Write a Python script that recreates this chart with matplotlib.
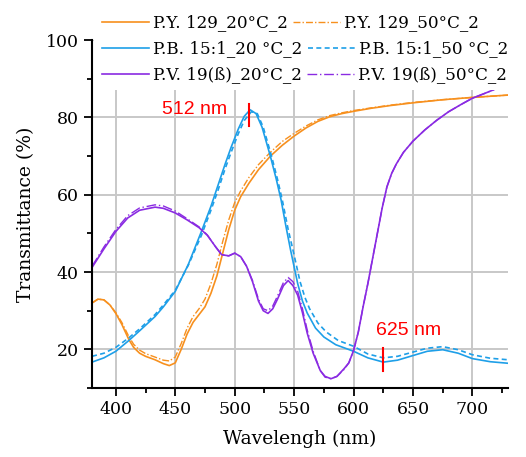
import matplotlib.pyplot as plt
from matplotlib.patches import Rectangle
from matplotlib.ticker import MultipleLocator

py20_x = [380, 385, 390, 395, 400, 405, 411, 415, 420, 425, 433, 440, 445, 450, 455, 460, 465, 470, 475, 480,
          485, 490, 495, 500, 505, 512, 520, 530, 540, 550, 560, 570, 580, 590, 600, 615, 631, 650, 675, 700, 730]
py20_y = [32, 33, 32.8, 31.5, 29.3, 26.5, 22.5, 20.5, 19, 18.2, 17.3, 16.3, 15.8, 16.5, 20, 24, 27, 29, 31, 34.5,
          39, 45, 51, 56, 59.5, 63, 66.5, 70, 72.8, 75.2, 77.3, 79, 80.2, 81, 81.6, 82.4, 83.1, 83.8, 84.6, 85.2, 85.8]
py50_y = [32, 33, 32.8, 31.5, 29.5, 27, 23.3, 21.3, 19.8, 18.9, 18, 17.2, 17, 18, 21.5, 25.5, 28.5, 30.5, 33, 37,
          42, 48, 53.5, 58, 61, 64.5, 67.8, 71, 73.8, 75.9, 77.8, 79.4, 80.5, 81.2, 81.8, 82.5, 83.2, 83.9, 84.6, 85.2, 85.8]

pb20_x = [380, 390, 400, 411, 420, 433, 440, 450, 461, 472, 480, 486, 492, 497, 503, 508, 513, 518, 523, 530, 535,
          539, 543, 547, 553, 557, 561, 568, 575, 585, 600, 612, 625, 637, 650, 662, 675, 688, 700, 715, 730]
pb20_y = [16.7, 17.8, 19.5, 22.3, 24.8, 28.5, 31, 35, 42, 50.5, 57, 62.5, 68, 72.3, 77, 80.3, 82, 81, 77.5, 70, 64,
          58.7, 52, 45.7, 37, 32.5, 29.4, 25.5, 23.2, 21.2, 19.5, 17.8, 16.7, 17.2, 18.4, 19.5, 19.9, 19, 17.6, 16.8, 16.4]
pb50_x = [380, 390, 400, 411, 420, 433, 440, 450, 461, 472, 480, 486, 492, 497, 503, 508, 514, 519, 524, 531, 536,
          540, 545, 549, 555, 559, 563, 570, 577, 587, 600, 612, 625, 637, 650, 662, 675, 688, 700, 715, 730]
pb50_y = [18.2, 19, 20.5, 23, 25.3, 29, 31.5, 35.3, 41.8, 49.5, 56, 61.2, 66.8, 71, 75.8, 79.2, 81.5, 81, 77.5, 70, 64,
          58.7, 51, 45.7, 37.5, 33.5, 30.5, 26.8, 24.5, 22.3, 20.8, 18.8, 17.8, 18.2, 19.3, 20.3, 20.7, 19.9, 18.6, 17.7, 17.3]

pv_x = [380, 390, 400, 410, 420, 433, 440, 450, 460, 470, 477, 484, 489, 495, 500, 505, 510, 515, 520, 524, 528,
        532, 536, 541, 545, 549, 553, 557, 561, 566, 572, 576, 581, 586, 592, 596, 600, 604, 608, 612, 616, 620,
        624, 628, 632, 636, 642, 650, 660, 670, 680, 690, 700, 710, 718]
pv20_y = [41.2, 46, 50.5, 54, 56, 56.8, 56.5, 55.3, 53.5, 51.5, 49.5, 46.5, 44.5, 44.2, 44.9, 44, 41.5, 37.5, 32.5,
          30, 29.3, 30.5, 33, 36.5, 37.8, 36.5, 34, 29.5, 24.2, 19, 14.5, 13, 12.4, 13, 15, 16.5, 19.7, 24.5, 31, 37,
          43.5, 50, 56.5, 62, 65.5, 68, 71, 73.9, 76.8, 79.3, 81.5, 83.3, 85, 86.2, 87.2]
pv50_y = [41.5, 46.5, 51, 54.6, 56.6, 57.4, 57.1, 55.8, 53.8, 51.7, 49.6, 46.5, 44.5, 44.2, 44.9, 44, 41.5, 37.8, 33,
          30.5, 30, 31.2, 33.8, 37.3, 38.6, 37.5, 35, 30.5, 25, 19.5, 14.5, 12.8, 12.4, 13, 14.8, 16.5, 19.7, 24.5, 31,
          37, 43.5, 50, 56.5, 62, 65.5, 68, 71, 73.9, 76.8, 79.3, 81.5, 83.3, 85, 86.2, 87.2]

orange = '#F7901E'
blue = '#1E9FE8'
purple = '#8A2BE2'

plt.rcParams['font.family'] = 'DejaVu Serif'
plt.rcParams['font.size'] = 13.5

fig = plt.figure(figsize=(5.26, 4.57), dpi=100)
ax = fig.add_axes([0.175, 0.151, 0.791, 0.761])

l1, = ax.plot(py20_x, py20_y, color=orange, lw=1.2, label='P.Y. 129_20°C_2')
l2, = ax.plot(py20_x, py50_y, color=orange, lw=1.0, ls=(0, (5, 1.5, 1, 1.5)), label='P.Y. 129_50°C_2')
l3, = ax.plot(pb20_x, pb20_y, color=blue, lw=1.2, label='P.B. 15:1_20 °C_2')
l4, = ax.plot(pb50_x, pb50_y, color=blue, lw=1.2, ls=(0, (3, 2)), label='P.B. 15:1_50 °C_2')
l5, = ax.plot(pv_x, pv20_y, color=purple, lw=1.2, label='P.V. 19(ß)_20°C_2')
l6, = ax.plot(pv_x, pv50_y, color=purple, lw=1.0, ls=(0, (7, 2, 1, 2)), label='P.V. 19(ß)_50°C_2')

# red markers
ax.plot([512, 512], [77.7, 83.6], color='red', lw=1.5)
ax.plot([625, 625], [14.3, 20.3], color='red', lw=1.5)
ax.text(439, 82, '512 nm', color='red', fontsize=14, family='Liberation Sans', va='center')
ax.text(618.5, 24.9, '625 nm', color='red', fontsize=14, family='Liberation Sans', va='center')

ax.set_xlim(380, 730)
ax.set_ylim(10, 100)
ax.xaxis.set_major_locator(MultipleLocator(50))
ax.xaxis.set_minor_locator(MultipleLocator(25))
ax.yaxis.set_major_locator(MultipleLocator(20))
ax.yaxis.set_minor_locator(MultipleLocator(10))
ax.set_yticks([20, 40, 60, 80, 100])
ax.grid(True, which='major', color='#c8c8c8', lw=1.4)
ax.set_axisbelow(True)
ax.tick_params(which='major', direction='out', length=6, width=1.3, labelsize=12.5)
ax.tick_params(which='minor', direction='out', length=3.5, width=1.3)
for s in ['top', 'right']:
    ax.spines[s].set_visible(False)
for s in ['left', 'bottom']:
    ax.spines[s].set_linewidth(1.5)

ax.set_xlabel('Wavelengh (nm)', labelpad=8)
ax.set_ylabel('Transmittance (%)', labelpad=8)

# white area behind the legend, hides the top of the grid
fig.add_artist(Rectangle((94 / 526, 1 - 90 / 457), 1, 1, transform=fig.transFigure,
                         facecolor='white', edgecolor='none', zorder=1))

# one legend per row, like the reference
rows = [(l1, l2), (l3, l4), (l5, l6)]
centers = [23, 49, 75]
for (a, b), yc in zip(rows, centers):
    leg = fig.legend([a, b], [a.get_label(), b.get_label()], ncol=2, loc='center left',
                     bbox_to_anchor=(102 / 526, 1 - yc / 457), frameon=False, borderpad=0,
                     borderaxespad=0, handlelength=2.8, handletextpad=0.25, columnspacing=0.3,
                     fontsize=12.1)
    leg.set_zorder(5)

fig.savefig('out.png', dpi=100)
